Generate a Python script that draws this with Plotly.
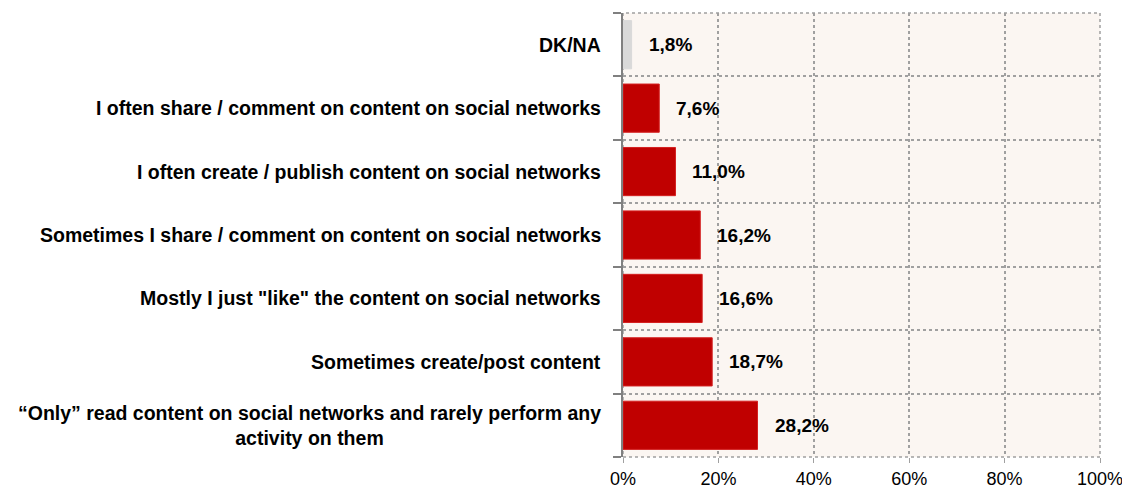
import plotly.graph_objects as go

categories = [
    "DK/NA",
    "I often share / comment on content on social networks",
    "I often create / publish content on social networks",
    "Sometimes I share / comment on content on social networks",
    "Mostly I just \"like\" the content on social networks",
    "Sometimes create/post content",
    "\u201cOnly\u201d read content on social networks and rarely perform any<br>activity on them",
]
values = [1.8, 7.6, 11.0, 16.2, 16.6, 18.7, 28.2]
bar_colors = ["#D9D9D9"] + ["#C00000"] * 6
x_ticks = [0, 20, 40, 60, 80, 100]
x_tick_labels = ["0%", "20%", "40%", "60%", "80%", "100%"]

FONT = "Liberation Sans, Arial, sans-serif"

fig = go.Figure()
fig.add_trace(go.Bar(
    x=values,
    y=list(range(len(categories))),
    orientation="h",
    width=0.76,
    marker=dict(color=bar_colors, line=dict(color=["#D9D9D9"] + ["#D42020"] * 6, width=1)),
    hoverinfo="skip",
))

annotations = []
for i, (c, v) in enumerate(zip(categories, values)):
    annotations.append(dict(
        x=0, xref="paper", y=i, yref="y", text=c, showarrow=False,
        xanchor="right", yanchor="middle", align="center", xshift=-20,
        font=dict(family=FONT, size=19.5, color="#000000", weight="bold"),
    ))
    annotations.append(dict(
        x=v, xref="x", y=i, yref="y",
        text=(f"{v:.1f}".replace(".", ",") + "%"), showarrow=False,
        xanchor="left", yanchor="middle", xshift=15,
        font=dict(family=FONT, size=19, color="#000000", weight="bold"),
    ))

fig.update_layout(
    width=1122, height=487,
    margin=dict(l=615, r=30, t=5, b=38, autoexpand=False),
    paper_bgcolor="#FFFFFF",
    plot_bgcolor="#FBF6F2",
    showlegend=False,
    annotations=annotations,
    xaxis=dict(
        range=[0, 100], tickvals=x_ticks, ticktext=x_tick_labels,
        showgrid=True, gridcolor="#A0A0A0", griddash="dot", gridwidth=1.5,
        zeroline=False, showline=False, automargin=False,
        ticks="outside", ticklen=5, tickcolor="#A0A0A0",
        tickfont=dict(family=FONT, size=18, color="#000000"),
        fixedrange=True,
    ),
    yaxis=dict(
        range=[6.5, -0.5],
        tickvals=[i - 0.5 for i in range(len(categories) + 1)],
        showticklabels=False, automargin=False,
        showgrid=True, gridcolor="#A0A0A0", griddash="dot", gridwidth=1.5,
        zeroline=False,
        showline=True, linecolor="#808080", linewidth=2,
        ticks="outside", ticklen=8, tickcolor="#808080", tickwidth=2,
        fixedrange=True,
    ),
    shapes=[dict(
        type="rect", xref="paper", yref="paper", x0=0, x1=1, y0=0, y1=1,
        line=dict(color="#A0A0A0", width=1.5, dash="dot"), layer="below",
    )],
)

fig.write_html("out.html")
